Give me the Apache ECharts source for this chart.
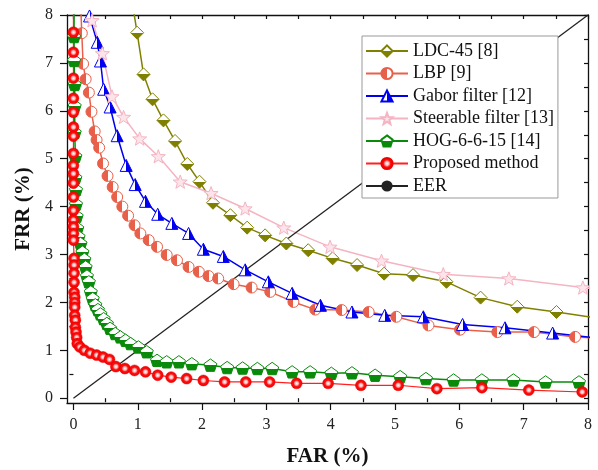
<!DOCTYPE html>
<html>
<head>
<meta charset="utf-8">
<script src="https://cdn.jsdelivr.net/npm/echarts@6/dist/echarts.min.js"></script>
<style>
  html, body { margin: 0; padding: 0; background: #fff; }
  #chart { width: 598px; height: 470px; }
</style>
</head>
<body>
<div id="chart"></div>
<script>
// FAR (%), FRR (%) pairs; first point of the steep curves sits above the frame so the line runs to the top
var ldc = [[0.91, 8.3], [0.99, 7.63], [1.09, 6.76], [1.23, 6.24], [1.40, 5.80], [1.58, 5.37], [1.77, 4.89], [1.96, 4.52],
  [2.17, 4.08], [2.44, 3.82], [2.70, 3.56], [2.98, 3.40], [3.31, 3.23], [3.65, 3.09], [4.03, 2.92], [4.41, 2.78],
  [4.83, 2.60], [5.28, 2.57], [5.80, 2.43], [6.33, 2.10], [6.90, 1.91], [7.51, 1.80], [8.2, 1.66]];
var lbp = [[0.11, 8.3], [0.13, 7.62], [0.15, 6.98], [0.19, 6.66], [0.24, 6.38], [0.28, 5.98], [0.33, 5.57], [0.36, 5.39],
  [0.40, 5.23], [0.46, 4.90], [0.53, 4.64], [0.61, 4.41], [0.68, 4.20], [0.76, 4.00], [0.85, 3.81], [0.95, 3.61],
  [1.04, 3.44], [1.17, 3.30], [1.30, 3.16], [1.45, 2.99], [1.61, 2.88], [1.79, 2.74], [1.95, 2.64], [2.10, 2.55],
  [2.25, 2.50], [2.49, 2.38], [2.77, 2.31], [3.06, 2.22], [3.42, 2.01], [3.76, 1.85], [4.17, 1.84], [4.59, 1.80],
  [5.02, 1.70], [5.52, 1.52], [6.01, 1.43], [6.59, 1.38], [7.16, 1.38], [7.80, 1.28], [8.2, 1.25]];
var gabor = [[0.22, 8.3], [0.25, 7.98], [0.37, 7.43], [0.42, 7.04], [0.47, 6.45], [0.57, 6.08], [0.68, 5.48], [0.82, 4.86],
  [0.96, 4.46], [1.12, 4.11], [1.31, 3.84], [1.53, 3.65], [1.79, 3.44], [2.02, 3.11], [2.33, 2.96], [2.67, 2.68],
  [3.03, 2.43], [3.40, 2.19], [3.84, 1.94], [4.33, 1.80], [4.84, 1.73], [5.44, 1.70], [6.05, 1.54], [6.71, 1.47],
  [7.45, 1.36], [8.2, 1.25]];
var steerable = [[0.21, 8.3], [0.29, 7.89], [0.45, 7.20], [0.60, 6.30], [0.78, 5.87], [1.03, 5.42], [1.32, 5.05],
  [1.66, 4.52], [2.14, 4.28], [2.67, 3.96], [3.27, 3.56], [3.99, 3.16], [4.79, 2.87], [5.75, 2.59], [6.77, 2.50],
  [7.92, 2.31], [8.3, 2.24]];
var hog = [[0.01, 8.3], [0.01, 7.55], [0.01, 7.05], [0.02, 6.55], [0.02, 6.10], [0.02, 5.55], [0.03, 5.05], [0.03, 4.60],
  [0.04, 4.35], [0.04, 4.05], [0.05, 3.80], [0.06, 3.55], [0.08, 3.37], [0.11, 3.23], [0.14, 3.05], [0.17, 2.90],
  [0.19, 2.74], [0.21, 2.55], [0.24, 2.43], [0.27, 2.22], [0.30, 2.08], [0.34, 1.95], [0.38, 1.85], [0.42, 1.76],
  [0.47, 1.66], [0.52, 1.56], [0.57, 1.46], [0.65, 1.35], [0.73, 1.28], [0.81, 1.21], [0.89, 1.14], [1.01, 1.07],
  [1.14, 0.97], [1.30, 0.79], [1.45, 0.76], [1.64, 0.76], [1.84, 0.72], [2.13, 0.69], [2.39, 0.64], [2.63, 0.63],
  [2.86, 0.62], [3.09, 0.62], [3.40, 0.55], [3.68, 0.55], [4.01, 0.52], [4.33, 0.53], [4.69, 0.48], [5.08, 0.45],
  [5.48, 0.41], [5.91, 0.38], [6.35, 0.38], [6.84, 0.38], [7.34, 0.34], [7.86, 0.34]];
var proposed = [[0, 8.3], [0, 7.64], [0, 7.22], [0, 6.68], [0, 6.26], [0, 5.97], [0, 5.66], [0, 5.47], [0, 5.11],
  [0, 4.86], [0, 4.69], [0, 4.49], [0, 4.20], [0, 3.92], [0, 3.72], [0, 3.58], [0, 3.44], [0, 3.30], [0.01, 2.92],
  [0.01, 2.78], [0.01, 2.61], [0.01, 2.42], [0.01, 2.21], [0.02, 2.11], [0.02, 2.00], [0.02, 1.90], [0.02, 1.73],
  [0.03, 1.63], [0.03, 1.48], [0.04, 1.38], [0.05, 1.27], [0.06, 1.14], [0.10, 1.07], [0.17, 1.00], [0.26, 0.94],
  [0.36, 0.90], [0.46, 0.86], [0.56, 0.81], [0.66, 0.66], [0.80, 0.62], [0.95, 0.58], [1.12, 0.55], [1.31, 0.48],
  [1.52, 0.44], [1.76, 0.41], [2.02, 0.37], [2.35, 0.34], [2.68, 0.34], [3.05, 0.34], [3.47, 0.31], [3.96, 0.31],
  [4.47, 0.27], [5.05, 0.27], [5.65, 0.20], [6.35, 0.22], [7.08, 0.17], [7.91, 0.13]];
var eer = [[0, 0], [8, 8]];

var majorTicks = [0, 1, 2, 3, 4, 5, 6, 7, 8];
var minorTicks = [0.5, 1.5, 2.5, 3.5, 4.5, 5.5, 6.5, 7.5];
var allTicks = [0, 0.5, 1, 1.5, 2, 2.5, 3, 3.5, 4, 4.5, 5, 5.5, 6, 6.5, 7, 7.5, 8];

var FONT = "'Liberation Serif', 'Times New Roman', serif";
var starPath = 'path://M0,-10 L2.47,-3.4 L9.51,-3.09 L3.99,1.3 L5.88,8.09 L0,4.2 L-5.88,8.09 L-3.99,1.3 L-9.51,-3.09 L-2.47,-3.4 Z';
var pentaPath = 'path://M0,-10 L9.5,-3.1 L5.9,8.1 L-5.9,8.1 L-9.5,-3.1 Z';

// half white / half coloured fill for the markers
function half(c, vertical, whiteFirst) {
  var a = whiteFirst ? '#ffffff' : c, b = whiteFirst ? c : '#ffffff';
  return new echarts.graphic.LinearGradient(0, 0, vertical ? 0 : 1, vertical ? 1 : 0, [
    { offset: 0, color: a }, { offset: 0.5, color: a },
    { offset: 0.5, color: b }, { offset: 1, color: b }
  ]);
}

var myChart = echarts.init(document.getElementById('chart'));

var lineStyleAxis = { color: '#111', width: 1.3 };
var tickStyle = { color: '#111', width: 1.2 };

function frameAxis(pos, opt) {
  return Object.assign({
    type: 'value', position: pos, min: -0.1, max: 8, offset: 0,
    splitLine: { show: false },
    axisLine: { show: true, onZero: false, lineStyle: lineStyleAxis },
    axisLabel: { show: false },
    axisTick: { show: false }
  }, opt);
}

var option = {
  animation: false,
  backgroundColor: '#fff',
  grid: { left: 67, right: 10, top: 15, bottom: 67, containLabel: false, outerBoundsMode: 'none' },
  legend: {
    orient: 'vertical',
    left: 362, top: 36,
    padding: [6, 4, 3, 3],
    itemGap: 4.5,
    itemWidth: 42, itemHeight: 14,
    backgroundColor: '#fff',
    borderColor: '#999', borderWidth: 1,
    textStyle: { fontFamily: FONT, fontSize: 18, color: '#111' },
    data: ['LDC-45 [8]', 'LBP [9]', 'Gabor filter [12]', 'Steerable filter [13]', 'HOG-6-6-15 [14]', 'Proposed method', 'EER']
  },
  xAxis: [
    frameAxis('bottom', {
      name: 'FAR (%)', nameLocation: 'middle', nameGap: 43,
      nameTextStyle: { fontFamily: FONT, fontSize: 21, fontWeight: 'bold', color: '#111' },
      axisTick: { show: true, length: 7, customValues: majorTicks, lineStyle: tickStyle },
      axisLabel: { show: true, margin: 14, customValues: majorTicks, fontFamily: FONT, fontSize: 16, color: '#222' }
    }),
    frameAxis('bottom', {
      axisLine: { show: false },
      axisTick: { show: true, length: 4, customValues: minorTicks, lineStyle: tickStyle }
    }),
    frameAxis('top', {
      axisTick: { show: true, inside: true, length: 4, customValues: allTicks, lineStyle: tickStyle }
    })
  ],
  yAxis: [
    frameAxis('left', {
      name: 'FRR (%)', nameLocation: 'middle', nameGap: 24, nameRotate: 90,
      nameTextStyle: { fontFamily: FONT, fontSize: 21, fontWeight: 'bold', color: '#111' },
      axisTick: { show: true, length: 7, customValues: majorTicks, lineStyle: tickStyle },
      axisLabel: { show: true, margin: 14, customValues: majorTicks, fontFamily: FONT, fontSize: 16, color: '#222' }
    }),
    frameAxis('left', {
      axisLine: { show: false },
      axisTick: { show: true, length: 4, customValues: minorTicks, lineStyle: tickStyle }
    }),
    frameAxis('right', {
      axisTick: { show: true, inside: true, length: 4, customValues: allTicks, lineStyle: tickStyle }
    })
  ],
  series: [
    {
      name: 'LDC-45 [8]', type: 'line', data: ldc,
      symbol: 'diamond', symbolSize: 13,
      lineStyle: { color: '#808000', width: 1.5 },
      itemStyle: { color: half('#808000', true, true), borderColor: '#808000', borderWidth: 1 }
    },
    {
      name: 'LBP [9]', type: 'line', data: lbp,
      symbol: 'circle', symbolSize: 11,
      lineStyle: { color: '#E8604A', width: 1.5 },
      itemStyle: { color: half('#E8604A', false, false), borderColor: '#E8604A', borderWidth: 1 }
    },
    {
      name: 'Gabor filter [12]', type: 'line', data: gabor,
      symbol: 'triangle', symbolSize: 12,
      lineStyle: { color: '#0000F0', width: 1.5 },
      itemStyle: { color: half('#0000F0', false, true), borderColor: '#0000F0', borderWidth: 1 }
    },
    {
      name: 'Steerable filter [13]', type: 'line', data: steerable,
      symbol: starPath, symbolSize: 14, symbolKeepAspect: true,
      lineStyle: { color: '#F4B4C2', width: 1.5 },
      itemStyle: { color: '#FCE4EA', borderColor: '#F4B4C2', borderWidth: 1 }
    },
    {
      name: 'HOG-6-6-15 [14]', type: 'line', data: hog,
      symbol: pentaPath, symbolSize: 13, symbolKeepAspect: true,
      lineStyle: { color: '#0A8A0A', width: 1.5 },
      itemStyle: { color: half('#0A8A0A', true, true), borderColor: '#0A8A0A', borderWidth: 1 }
    },
    {
      name: 'Proposed method', type: 'line', data: proposed,
      symbol: 'circle', symbolSize: 11,
      lineStyle: { color: '#FF2020', width: 1.2 },
      itemStyle: {
        color: new echarts.graphic.RadialGradient(0.5, 0.5, 0.5, [
          { offset: 0, color: '#ffffff' }, { offset: 0.3, color: '#ffb4b4' },
          { offset: 0.55, color: '#ff1010' }, { offset: 1, color: '#e80000' }
        ]),
        borderColor: '#f00000', borderWidth: 0.5
      }
    },
    {
      name: 'EER', type: 'line', data: eer,
      symbol: 'none',
      lineStyle: { color: '#222', width: 1.3 },
      itemStyle: { color: '#222' }
    }
  ]
};

myChart.setOption(option);
window.addEventListener('resize', function () {
  myChart.resize();
});
</script>
</body>
</html>
